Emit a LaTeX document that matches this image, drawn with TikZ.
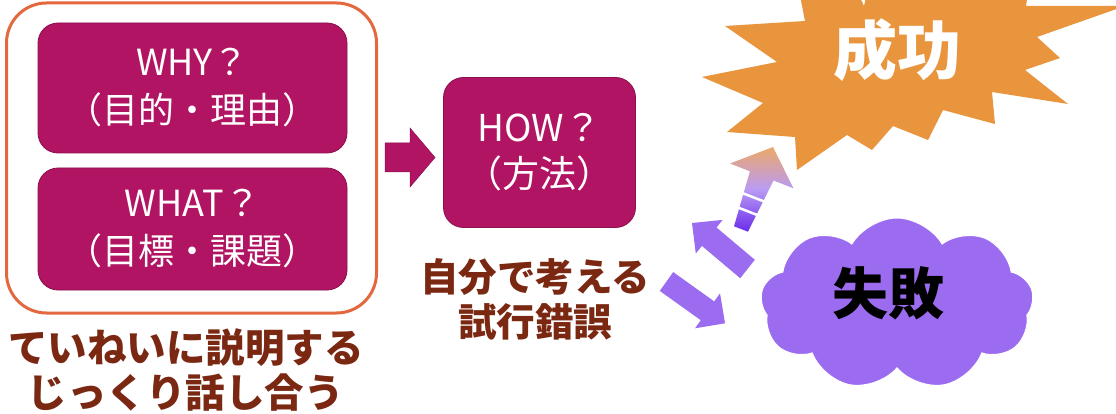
\documentclass[tikz,border=0pt]{standalone}
\usepackage{fontspec}
\newfontfamily\jp{Noto Sans CJK JP}
\usetikzlibrary{shapes.symbols}
\definecolor{mag}{HTML}{B01462}
\definecolor{magdark}{HTML}{8C0F4E}
\definecolor{frame}{HTML}{E4683E}
\definecolor{brownc}{HTML}{7B2812}
\definecolor{star}{HTML}{E9953D}
\definecolor{cloudp}{HTML}{9B6CF0}
\definecolor{gpurple}{HTML}{6A2CEA}
\definecolor{glav}{HTML}{B99BF4}
\definecolor{gorange}{HTML}{ECA869}
\begin{document}
\begin{tikzpicture}[x=1pt,y=-1pt,
  magbox/.style={draw=magdark, line width=0.8pt, fill=mag, rounded corners=20pt,
    text=white, align=center, font=\jp\fontsize{36}{48}\selectfont, inner sep=0pt},
  brownlbl/.style={text=brownc, align=center, font=\jp\bfseries\fontsize{38.5}{45}\selectfont, inner sep=0pt},
  blockarrow/.style={fill=cloudp},
]
\useasboundingbox (0,0) rectangle (1116,414);
\fill[white] (0,0) rectangle (1116,414);

% left group
\node[draw=frame, line width=3pt, rounded corners=40pt, minimum width=370pt, minimum height=310pt] (group) at (191.5,158) {};
\node[magbox, minimum width=309pt, minimum height=130pt] (why) at (192.5,88) {WHY？\\（目的・理由）};
\node[magbox, minimum width=309pt, minimum height=122pt] (what) at (192.5,229) {WHAT？\\（目標・課題）};
\node[magbox, minimum width=192pt, minimum height=150pt, font=\jp\fontsize{37}{46}\selectfont] (how) at (539.5,152.5) {HOW？\\（方法）};

% magenta block arrow
\fill[mag, draw=magdark, line width=0.5pt] (385,143) -- (410,143) -- (410,128) -- (435,157.5) -- (410,187) -- (410,172) -- (385,172) -- cycle;

% brown labels
\node[brownlbl] (trial) at (535,299) {自分で考える\\試行錯誤};
\node[brownlbl, font=\jp\bfseries\fontsize{39.5}{45}\selectfont] (talk) at (186,370) {ていねいに説明する\\じっくり話し合う};

% starburst
\begin{scope}
\clip (0,0) rectangle (1116,414);
\fill[star] (797,-20) -- (805,21) -- (725,26) -- (777,62) -- (702,77) -- (763,103) -- (727,132) -- (795,137) -- (797,170) -- (847,135) -- (872,150) -- (893,126) -- (928,140) -- (943,110) -- (995,124) -- (992,92) -- (1068,104) -- (1025,70) -- (1060,58) -- (1037,37) -- (1125,6) -- (1026,6) -- (1030,-20) -- (870,-20) -- (864,6) -- (852,-20) -- cycle;
\end{scope}
\node[font=\jp\bfseries\fontsize{64}{64}\selectfont, text=white] (success) at (897,50) {成功};

% gradient arrow
\shade[shading angle=-21, bottom color=gpurple, top color=gorange, middle color=glav]
  (734,226.3) -- (749.9,171.3) -- (730,163.5) -- (773,147) -- (793.4,188.3) -- (773.5,180.5) -- (748,231.7) -- cycle;
\draw[white, line width=2.5pt] (736.7,207) -- (759.1,215.7);
\draw[white, line width=2.5pt] (742.2,193) -- (764.6,201.7);

% cloud
\node[cloud, cloud puffs=9, cloud puff arc=120, aspect=1.6, fill=cloudp, draw=white, line width=1pt,
  minimum width=273pt, minimum height=172pt, inner sep=0pt] (cloud) at (897,304) {};
\node[font=\jp\bfseries\fontsize{56}{56}\selectfont] (fail) at (888,293) {失敗};

% purple arrows
\fill[cloudp] (692,223) -- (722.6,219.9) -- (716.5,227.5) -- (754.8,259.8) -- (740.2,278.2) -- (701.9,245.9) -- (695.8,253.5) -- cycle;
\fill[cloudp] (725,323.3) -- (720,293.3) -- (714.2,301.4) -- (673.2,272.1) -- (659.8,290.9) -- (700.8,320.2) -- (695,328.3) -- cycle;
\end{tikzpicture}
\end{document}
